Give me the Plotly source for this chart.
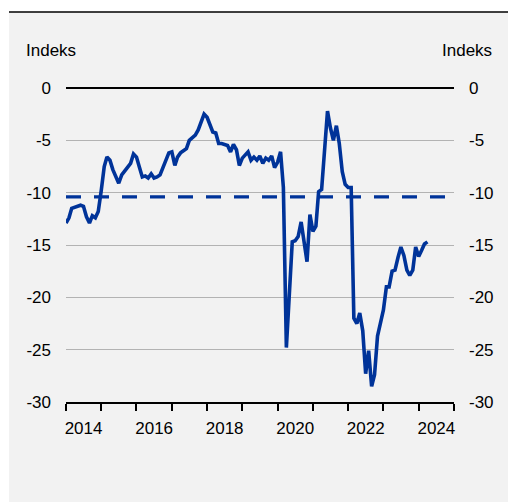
import pandas as pd
import plotly.graph_objects as go

# Monthly index values, January 2014 onwards
index_values = [
    -12.9, -12.4, -11.5, -11.4, -11.3, -11.2, -11.3, -12.3, -12.9, -12.2, -12.4, -11.8,  # 2014
    -9.8, -7.5, -6.6, -6.9, -7.8, -8.4, -9.1, -8.3, -7.9, -7.6, -7.2, -6.3,              # 2015
    -6.6, -7.6, -8.5, -8.4, -8.6, -8.2, -8.6, -8.5, -8.3, -7.6, -6.8, -6.2,              # 2016
    -6.1, -7.4, -6.6, -6.2, -6.0, -5.8, -5.0, -4.8, -4.5, -4.0, -3.3, -2.5,              # 2017
    -2.8, -3.5, -4.2, -4.3, -5.3, -5.3, -5.4, -5.5, -6.1, -5.4, -5.9, -7.4,              # 2018
    -6.7, -6.4, -6.1, -6.9, -6.6, -6.9, -6.5, -7.2, -6.7, -6.9, -6.5, -7.6,              # 2019
    -7.1, -6.1, -9.5, -24.8, -20.0, -14.7, -14.6, -14.2, -12.8, -14.5, -16.6, -12.1,     # 2020
    -13.7, -13.2, -9.9, -9.7, -6.0, -2.2, -3.8, -5.0, -3.6, -5.3, -8.0, -9.2,            # 2021
    -9.5, -9.5, -22.0, -22.5, -21.5, -23.2, -27.3, -25.1, -28.5, -27.4, -23.7, -22.3,    # 2022
    -21.2, -19.0, -19.0, -17.5, -17.4, -16.2, -15.2, -16.0, -17.4, -17.9, -17.4, -15.2,  # 2023
    -16.1, -15.5, -14.9, -14.7,                                                          # 2024
]
months = pd.date_range("2014-01-01", periods=len(index_values), freq="MS")

# Long-run average level
average_level = -10.4
average_span = ["2014-01-01", "2024-12-01"]

# Axis labelling
y_ticks = [0, -5, -10, -15, -20, -25, -30]
year_labels = ["2014", "2016", "2018", "2020", "2022", "2024"]
year_label_pos = [f"{y}-07-02" for y in year_labels]

BLUE = "#003399"
BG = "#f2f2f2"
FONT = "Liberation Sans, Arial, sans-serif"

W, H = 508, 502
L, R, T, B = 66, 54, 88, 100
pw, ph = W - L - R, H - T - B


def px_x(p):
    return (p - L) / pw


def px_y(p):
    return (H - B - p) / ph


fig = go.Figure()

fig.add_trace(go.Scatter(
    x=months, y=index_values, mode="lines",
    line=dict(color=BLUE, width=3.6), yaxis="y", hoverinfo="skip",
))
fig.add_trace(go.Scatter(
    x=average_span, y=[average_level, average_level], mode="lines",
    line=dict(color=BLUE, width=3.3, dash="15px,13px"), yaxis="y2", hoverinfo="skip",
))

yaxis_common = dict(
    range=[-30, 0], tickvals=y_ticks, ticktext=[str(v) for v in y_ticks],
    tickfont=dict(family=FONT, size=17, color="#000"),
    ticks="", ticklabelstandoff=14, fixedrange=True,
)

fig.update_layout(
    width=W, height=H,
    margin=dict(l=L, r=R, t=T, b=B, pad=0),
    paper_bgcolor=BG, plot_bgcolor=BG,
    showlegend=False,
    font=dict(family=FONT, size=17, color="#000"),
    xaxis=dict(
        type="date", range=["2014-01-01", "2025-01-01"],
        tickvals=year_label_pos, ticktext=year_labels, ticks="",
        ticklabelstandoff=10,
        tickfont=dict(family=FONT, size=17, color="#000"),
        showgrid=False, zeroline=False,
        showline=True, linecolor="#000", linewidth=1.5,
        minor=dict(tick0="2014-01-01", dtick="M12", ticks="outside",
                   ticklen=7, tickwidth=1.5, tickcolor="#000", showgrid=False),
        fixedrange=True,
    ),
    yaxis=dict(
        **yaxis_common, side="left",
        showgrid=True, gridcolor="#b3b3b3", gridwidth=1,
        zeroline=True, zerolinecolor="#000", zerolinewidth=1.5,
    ),
    yaxis2=dict(
        **yaxis_common, side="right", overlaying="y",
        showgrid=False, zeroline=False,
    ),
    shapes=[
        dict(type="rect", xref="paper", yref="paper",
             x0=px_x(-5), x1=px_x(9), y0=px_y(-5), y1=px_y(H + 5),
             fillcolor="white", line=dict(width=0), layer="below"),
        dict(type="rect", xref="paper", yref="paper",
             x0=px_x(-5), x1=px_x(W + 5), y0=px_y(-5), y1=px_y(12),
             fillcolor="white", line=dict(width=0), layer="below"),
        dict(type="line", xref="paper", yref="paper",
             x0=px_x(9), x1=px_x(W + 5), y0=px_y(12), y1=px_y(12),
             line=dict(color="#000", width=1.5)),
    ],
    annotations=[
        dict(text="Indeks", xref="paper", yref="paper",
             x=px_x(24), y=px_y(51), xanchor="left", yanchor="middle",
             showarrow=False, font=dict(family=FONT, size=17, color="#000")),
        dict(text="Indeks", xref="paper", yref="paper",
             x=px_x(494), y=px_y(51), xanchor="right", yanchor="middle",
             showarrow=False, font=dict(family=FONT, size=17, color="#000")),
    ],
)

fig.write_html("out.html")
